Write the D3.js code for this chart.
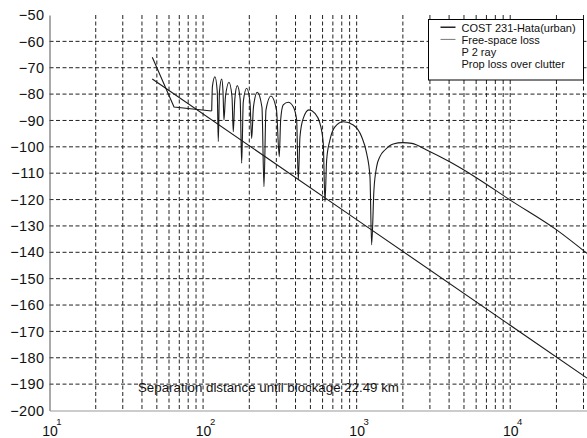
<!DOCTYPE html>
<html>
<head>
<meta charset="utf-8">
<script src="https://cdn.jsdelivr.net/npm/d3@7/dist/d3.min.js"></script>
<style>
	body { margin: 0; background: #fff; }
	svg { display: block; font-family: "Liberation Sans", Arial, sans-serif; }
	.grid line { stroke: #222; stroke-width: 1; stroke-dasharray: 4,2.5; }
	.curve { fill: none; stroke: #1a1a1a; stroke-width: 1.1; }
</style>
</head>
<body>
<div id="chart"></div>
<script>
// distances in metres, losses in dB
var hataDist = [46.7, 64.7, 113.8];
var hataLoss = [-66.0, -84.9, -86.4];

var freeDist = [46.7, 1000, 31623];
var freeLoss = [-74.3, -127.6, -187.7];

var twoRayDist = [113.8, 115.1, 119.5, 123.7, 125.6,
	127.9, 132.2, 134.8, 136.8,
	139.9, 147.5, 154.3, 157.3,
	160.9, 167.0, 174.4, 178.4,
	182.7, 192.2, 202.0, 207.2,
	212.8, 225.4, 241.8, 249.2,
	256.8, 276.7, 300.6, 313.4,
	320, 332.7, 358.6, 386.5, 406.7, 416.8,
	427.5, 449.1, 489.2, 535.2, 576.8, 606.2, 621.9,
	637.9, 670.2, 722.4, 818.1, 950.7, 1078, 1161, 1221, 1252,
	1296, 1350, 1418, 1528, 1731, 1993, 2291, 2856, 4008, 5980, 10000, 20050, 31623];
var twoRayLoss = [-86.4, -77, -73.4, -79, -98.0,
	-79, -74.3, -79, -89.8,
	-81, -75.5, -81, -94.3,
	-82, -76.8, -82, -106.2,
	-83, -77.8, -83, -96.8,
	-85, -79.3, -85, -115.1,
	-86, -80.7, -86, -103.7,
	-89.8, -84.1, -83.1, -84.8, -89.8, -112.6,
	-96.2, -89.2, -86.0, -87.3, -91.1, -98.7, -120.8,
	-105.0, -97.4, -92.4, -90.5, -91.7, -96.2, -102.4, -111.3, -137.2,
	-116.4, -107.5, -103.7, -101.2, -98.9, -98.4, -98.7, -101.2, -105.6, -111.6, -120.2, -131.5, -140.4];

var yTicks = d3.range(-200, -49, 10);
var xDecades = [10, 100, 1000, 10000];
var xGrid = [20, 30, 40, 50, 60, 70, 80, 90, 100, 200, 300, 400, 500, 600, 700, 800, 900,
	1000, 2000, 3000, 4000, 5000, 6000, 7000, 8000, 9000, 10000, 20000, 30000];

var legendLabels = ["COST 231-Hata(urban)", "Free-space loss", "P 2 ray", "Prop loss over clutter"];
var legendColors = ["#000", "#777", null, null];

var note = "Separation distance until blockage 22.49 km";

var W = 587, H = 438;
var margin = {top: 15, right: 0, bottom: 27.5, left: 49.5};

var svg = d3.select("#chart").append("svg")
	.attr("width", W)
	.attr("height", H);

var x = d3.scaleLog().domain([10, 31623]).range([margin.left, W - margin.right]);
var y = d3.scaleLinear().domain([-200, -50]).range([H - margin.bottom, margin.top]);

// grid
var grid = svg.append("g").attr("class", "grid");
grid.selectAll(".hg")
	.data(yTicks.filter(function(d) { return d > -200 && d < -50; }))
	.enter().append("line")
	.attr("x1", margin.left).attr("x2", W)
	.attr("y1", function(d) { return y(d); })
	.attr("y2", function(d) { return y(d); });
grid.selectAll(".vg")
	.data(xGrid)
	.enter().append("line")
	.attr("y1", margin.top).attr("y2", H - margin.bottom)
	.attr("x1", function(d) { return x(d); })
	.attr("x2", function(d) { return x(d); });

// axes
var yAxis = svg.append("g")
	.attr("transform", "translate(" + margin.left + ",0)")
	.call(d3.axisLeft(y).tickValues(yTicks).tickSize(0).tickPadding(5));
yAxis.select(".domain").attr("stroke", "#555");
yAxis.selectAll("text")
	.attr("font-size", "14.5px")
	.attr("font-family", "Liberation Sans, Arial, sans-serif")
	.attr("letter-spacing", "0.4px")
	.attr("fill", "#111");

var xAxis = svg.append("g")
	.attr("transform", "translate(0," + (H - margin.bottom) + ")")
	.call(d3.axisBottom(x).tickValues(xDecades).tickSize(0).tickFormat(function() { return ""; }));
xAxis.select(".domain").attr("stroke", "#999");
xAxis.selectAll(".tick text").remove();
xAxis.selectAll(".tick").each(function(d) {
	var t = d3.select(this);
	t.append("text")
		.attr("text-anchor", "middle")
		.attr("y", 25)
		.attr("font-size", "14px")
		.attr("font-family", "Liberation Sans, Arial, sans-serif")
		.attr("fill", "#111")
		.text("10");
	t.append("text")
		.attr("x", 9)
		.attr("y", 14)
		.attr("font-size", "9.5px")
		.attr("font-family", "Liberation Sans, Arial, sans-serif")
		.attr("fill", "#111")
		.text(Math.round(Math.log10(d)));
});

// curves
var straight = d3.line()
	.x(function(d) { return x(d[0]); })
	.y(function(d) { return y(d[1]); });
var smooth = d3.line()
	.x(function(d) { return x(d[0]); })
	.y(function(d) { return y(d[1]); })
	.curve(d3.curveMonotoneX);

function pairs(a, b) { return a.map(function(v, i) { return [v, b[i]]; }); }

svg.append("path").attr("class", "curve").attr("d", straight(pairs(freeDist, freeLoss)));
svg.append("path").attr("class", "curve").attr("d", straight(pairs(hataDist, hataLoss)));
svg.append("path").attr("class", "curve").attr("d", smooth(pairs(twoRayDist, twoRayLoss)));

// legend
var lg = svg.append("g").attr("transform", "translate(428.5,19.5)");
lg.append("rect")
	.attr("width", 155).attr("height", 60.5)
	.attr("fill", "#fff").attr("stroke", "#000").attr("stroke-width", 1);
legendLabels.forEach(function(name, i) {
	var yy = 12.2 + i * 12.2;
	if (legendColors[i]) {
		lg.append("line")
			.attr("x1", 12).attr("x2", 27)
			.attr("y1", yy - 4.5).attr("y2", yy - 4.5)
			.attr("stroke", legendColors[i])
			.attr("stroke-width", i === 0 ? 1.3 : 1);
	}
	lg.append("text")
		.attr("x", 33).attr("y", yy)
		.attr("font-size", "11px")
		.attr("fill", "#111")
		.text(name);
});

svg.append("text")
	.attr("x", 138).attr("y", 392)
	.attr("font-size", "13.3px")
	.attr("fill", "#111")
	.text(note);
</script>
</body>
</html>
